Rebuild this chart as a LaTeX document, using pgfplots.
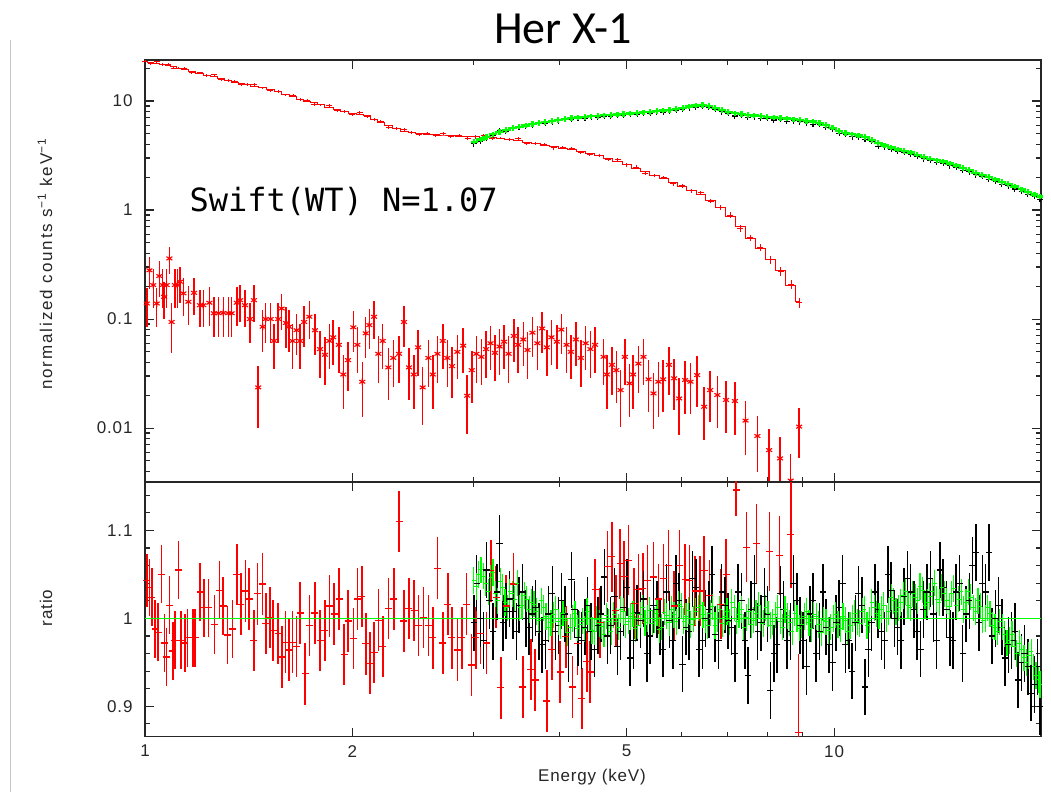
\documentclass[border=0pt]{standalone}
\usepackage{pgfplots}
\pgfplotsset{compat=1.18}
\usepackage{pgfplotstable}
\usepackage{fontspec}
\setmainfont{Liberation Sans}
\newfontfamily\titlefont{Carlito}
\newfontfamily\monofont{DejaVu Sans Mono}
\newfontfamily\pgfont{Liberation Sans}[LetterSpace=5]
\newfontfamily\pgwide{Liberation Sans}[LetterSpace=11]

% upper red (Swift WT): energy, model, data, error
\pgfplotstableread{
E m d e
1.00 23.0 23.2 0.6
1.02 22.6 22.1 0.6
1.04 22.2 22.9 0.6
1.06 21.8 21.6 0.6
1.08 21.2 21.6 0.6
1.10 20.6 20.0 0.5
1.12 20.0 20.0 0.5
1.14 19.4 20.0 0.5
1.17 18.7 18.3 0.5
1.20 17.95 18.1 0.5
1.23 17.3 17.1 0.45
1.26 16.7 17.4 0.45
1.29 16.0 15.7 0.45
1.32 15.5 15.5 0.4
1.35 14.95 15.2 0.4
1.38 14.5 14.1 0.4
1.41 14.1 14.2 0.4
1.44 13.7 14.1 0.4
1.48 13.3 13.2 0.35
1.52 12.8 12.5 0.35
1.56 12.2 12.3 0.35
1.60 11.6 11.4 0.3
1.64 11.0 11.3 0.3
1.68 10.4 10.3 0.3
1.72 10.0 10.2 0.3
1.76 9.6 9.3 0.3
1.80 9.2 9.2 0.25
1.85 8.8 9.06 0.25
1.90 8.4 8.23 0.25
1.95 8.0 8.08 0.25
2.00 7.65 7.57 0.22
2.05 7.5 7.8 0.22
2.10 7.3 7.15 0.22
2.15 6.8 6.8 0.2
2.20 6.35 6.48 0.2
2.26 5.95 5.77 0.18
2.32 5.55 5.6 0.17
2.38 5.3 5.46 0.16
2.44 5.15 5.1 0.16
2.50 5.05 4.95 0.15
2.57 4.98 5.03 0.15
2.64 4.93 4.83 0.15
2.71 4.88 5.03 0.15
2.78 4.82 4.77 0.15
2.86 4.76 4.86 0.15
2.94 4.70 4.56 0.15
3.02 4.68 4.68 0.15
3.10 4.66 4.8 0.15
3.19 4.60 4.51 0.14
3.28 4.53 4.58 0.14
3.38 4.46 4.42 0.14
3.48 4.33 4.5 0.14
3.58 4.20 4.12 0.13
3.69 4.07 4.07 0.13
3.80 3.95 4.03 0.13
3.92 3.82 3.71 0.12
4.04 3.70 3.74 0.12
4.16 3.57 3.68 0.12
4.29 3.43 3.4 0.11
4.42 3.30 3.23 0.11
4.56 3.15 3.18 0.1
4.70 2.98 2.92 0.1
4.85 2.80 2.88 0.1
5.00 2.62 2.59 0.09
5.16 2.43 2.48 0.09
5.32 2.25 2.18 0.08
5.49 2.08 2.08 0.08
5.66 1.93 1.99 0.07
5.84 1.78 1.74 0.07
6.02 1.65 1.67 0.07
6.21 1.52 1.50 0.06
6.41 1.38 1.44 0.06
6.62 1.23 1.21 0.06
6.84 1.06 1.06 0.05
7.07 0.88 0.90 0.05
7.31 0.70 0.68 0.045
7.56 0.55 0.556 0.04
7.82 0.44 0.453 0.035
8.09 0.355 0.351 0.03
8.37 0.28 0.274 0.025
8.66 0.205 0.207 0.02
8.90 0.145 0.142 0.015
}\redtop

% lower red spectrum: energy, value, error
\pgfplotstableread{
E y e
1.006 0.139 0.055
1.015 0.280 0.09
1.028 0.205 0.08
1.040 0.139 0.055
1.049 0.248 0.09
1.061 0.205 0.08
1.066 0.160 0.06
1.075 0.205 0.08
1.085 0.360 0.1
1.093 0.094 0.045
1.105 0.205 0.08
1.114 0.205 0.08
1.124 0.220 0.08
1.137 0.172 0.065
1.156 0.144 0.055
1.178 0.174 0.065
1.202 0.134 0.05
1.215 0.134 0.05
1.240 0.141 0.055
1.259 0.113 0.045
1.278 0.113 0.045
1.299 0.114 0.045
1.321 0.113 0.045
1.336 0.113 0.045
1.359 0.141 0.055
1.374 0.149 0.055
1.397 0.134 0.05
1.420 0.100 0.04
1.439 0.149 0.055
1.460 0.0236 0.0135
1.482 0.085 0.035
1.497 0.100 0.04
1.522 0.100 0.04
1.539 0.063 0.028
1.561 0.100 0.04
1.579 0.125 0.045
1.602 0.092 0.038
1.618 0.085 0.035
1.638 0.063 0.028
1.660 0.079 0.032
1.679 0.063 0.028
1.702 0.094 0.038
1.732 0.105 0.04
1.765 0.079 0.032
1.795 0.053 0.024
1.825 0.047 0.022
1.852 0.063 0.028
1.876 0.068 0.03
1.911 0.058 0.026
1.940 0.031 0.016
1.971 0.042 0.02
2.006 0.084 0.034
2.033 0.058 0.026
2.067 0.0266 0.014
2.091 0.074 0.03
2.116 0.088 0.035
2.150 0.105 0.04
2.181 0.048 0.022
2.213 0.063 0.028
2.255 0.036 0.018
2.293 0.044 0.02
2.337 0.048 0.022
2.376 0.094 0.038
2.416 0.036 0.018
2.455 0.031 0.016
2.491 0.055 0.025
2.529 0.0236 0.013
2.578 0.044 0.02
2.616 0.031 0.016
2.657 0.048 0.022
2.705 0.063 0.028
2.746 0.044 0.02
2.790 0.037 0.018
2.840 0.050 0.022
2.896 0.057 0.025
2.935 0.0198 0.011
2.980 0.034 0.017
3.026 0.048 0.022
3.077 0.045 0.02
3.127 0.053 0.024
3.173 0.060 0.026
3.220 0.049 0.022
3.27 0.056 0.025
3.32 0.062 0.027
3.37 0.048 0.022
3.43 0.070 0.03
3.48 0.058 0.026
3.54 0.065 0.028
3.59 0.052 0.024
3.65 0.075 0.03
3.71 0.060 0.026
3.77 0.082 0.033
3.83 0.055 0.025
3.89 0.068 0.03
3.96 0.062 0.027
4.02 0.080 0.032
4.09 0.058 0.026
4.15 0.050 0.022
4.22 0.065 0.028
4.29 0.044 0.02
4.36 0.060 0.026
4.43 0.053 0.024
4.50 0.058 0.026
4.63 0.045 0.02
4.68 0.031 0.016
4.76 0.038 0.018
4.83 0.034 0.017
4.90 0.0223 0.012
4.97 0.045 0.02
5.05 0.0257 0.013
5.11 0.031 0.016
5.20 0.039 0.018
5.29 0.045 0.02
5.38 0.028 0.014
5.47 0.0208 0.011
5.56 0.0266 0.014
5.65 0.028 0.014
5.76 0.038 0.018
5.86 0.0286 0.014
5.96 0.0187 0.01
6.08 0.0276 0.014
6.19 0.0266 0.013
6.33 0.0306 0.015
6.48 0.0157 0.008
6.61 0.0223 0.011
6.77 0.0201 0.01
6.97 0.0181 0.009
7.18 0.0177 0.009
7.44 0.0117 0.006
7.74 0.00845 0.0045
8.05 0.00628 0.0035
8.35 0.00527 0.003
8.65 0.0033 0.0025
8.90 0.0103 0.005
}\redlow

% black (b) and green (g) spectra
\pgfplotstableread{
E g b
3.00 4.24 4.05
3.07 4.45 4.25
3.13 4.65 4.60
3.20 4.95 4.85
3.27 5.22 5.35
3.34 5.45 5.30
3.42 5.68 5.60
3.49 5.82 5.75
3.57 5.98 5.85
3.65 6.15 6.05
3.73 6.28 6.30
3.81 6.42 6.25
3.90 6.60 6.45
3.98 6.72 6.60
4.07 6.86 6.80
4.16 6.95 6.78
4.25 7.05 6.95
4.35 7.14 6.90
4.44 7.24 7.15
4.54 7.32 7.10
4.64 7.40 7.30
4.74 7.47 7.20
4.85 7.55 7.45
4.95 7.62 7.40
5.06 7.70 7.62
5.18 7.78 7.55
5.29 7.88 7.80
5.41 7.97 7.72
5.53 8.06 7.95
5.65 8.17 7.90
5.77 8.28 8.15
5.90 8.50 8.25
6.03 8.68 8.45
6.16 8.90 8.65
6.30 9.08 8.75
6.44 9.20 8.95
6.58 9.05 8.70
6.72 8.65 8.45
6.87 8.25 7.95
7.02 7.98 7.70
7.18 7.72 7.30
7.34 7.60 7.35
7.50 7.45 7.05
7.66 7.35 7.15
7.83 7.25 6.95
8.00 7.15 6.90
8.18 7.05 6.70
8.36 6.98 6.80
8.54 6.90 6.55
8.73 6.80 6.60
8.92 6.70 6.45
9.12 6.60 6.30
9.32 6.50 6.15
9.52 6.30 6.10
9.73 6.02 5.75
9.95 5.70 5.50
10.17 5.30 5.05
10.39 5.10 4.95
10.62 4.95 4.70
10.85 4.82 4.65
11.09 4.68 4.45
11.34 4.40 4.25
11.59 4.10 3.85
11.84 3.92 3.80
12.10 3.75 3.60
12.37 3.60 3.45
12.64 3.50 3.38
12.92 3.38 3.22
13.20 3.22 3.12
13.49 3.08 2.95
13.79 2.96 2.85
14.09 2.86 2.72
14.40 2.78 2.68
14.72 2.68 2.55
15.04 2.56 2.48
15.37 2.44 2.32
15.71 2.32 2.24
16.06 2.20 2.10
16.41 2.10 2.03
16.77 2.00 1.91
17.14 1.91 1.84
17.52 1.82 1.73
17.90 1.73 1.67
18.30 1.64 1.56
18.70 1.55 1.49
19.11 1.47 1.40
19.53 1.39 1.33
19.90 1.33 1.26
}\nustar

% red ratio
\pgfplotstableread{
E r e
1.006 1.043 0.030
1.015 1.035 0.032
1.023 1.024 0.033
1.034 0.988 0.033
1.045 0.984 0.033
1.057 1.050 0.033
1.067 0.972 0.033
1.075 0.956 0.033
1.085 1.015 0.033
1.097 0.963 0.033
1.105 0.975 0.033
1.118 1.055 0.033
1.127 0.975 0.033
1.143 0.972 0.033
1.153 0.978 0.033
1.173 0.978 0.033
1.182 0.978 0.033
1.202 1.030 0.033
1.218 1.012 0.033
1.236 1.012 0.033
1.261 0.993 0.033
1.282 1.032 0.033
1.299 1.014 0.033
1.318 0.981 0.033
1.339 0.988 0.033
1.359 1.050 0.035
1.377 1.016 0.035
1.400 1.031 0.035
1.417 1.022 0.035
1.439 0.975 0.035
1.457 1.028 0.035
1.480 1.039 0.035
1.497 0.994 0.035
1.518 1.001 0.035
1.535 0.986 0.035
1.561 0.983 0.035
1.582 0.956 0.035
1.600 0.973 0.035
1.618 0.964 0.035
1.638 0.973 0.035
1.660 0.968 0.035
1.679 1.006 0.035
1.707 0.937 0.035
1.732 0.992 0.035
1.765 1.006 0.035
1.795 0.975 0.035
1.825 0.986 0.035
1.852 1.014 0.035
1.881 1.005 0.035
1.914 1.022 0.035
1.945 0.959 0.035
1.973 0.997 0.035
2.006 0.977 0.035
2.033 1.022 0.035
2.063 1.025 0.035
2.091 0.971 0.035
2.121 0.949 0.035
2.150 0.961 0.035
2.181 0.998 0.035
2.213 0.968 0.035
2.255 1.011 0.035
2.298 1.022 0.035
2.339 1.110 0.035
2.376 0.997 0.035
2.416 1.011 0.035
2.457 1.009 0.035
2.493 0.992 0.035
2.535 1.001 0.035
2.578 0.992 0.035
2.616 0.978 0.035
2.657 1.057 0.035
2.705 0.972 0.035
2.750 1.016 0.035
2.787 0.978 0.035
2.843 0.964 0.035
2.882 0.978 0.035
2.930 1.016 0.035
2.979 0.947 0.035
3.022 0.978 0.035
3.070 0.983 0.035
3.132 0.972 0.035
3.178 1.054 0.035
3.232 1.024 0.035
3.283 0.921 0.035
3.342 1.014 0.035
3.425 1.039 0.035
3.534 0.922 0.035
3.630 0.942 0.035
3.683 0.930 0.035
3.830 0.906 0.035
3.894 0.965 0.035
4.004 0.939 0.035
4.081 0.979 0.035
4.172 0.922 0.035
4.243 0.971 0.035
4.304 0.909 0.035
4.377 0.951 0.035
4.426 0.939 0.035
4.500 1.033 0.035
4.575 0.995 0.04
4.688 1.059 0.04
4.757 1.070 0.04
4.821 1.009 0.04
4.891 1.062 0.04
4.957 1.048 0.04
5.029 1.066 0.04
5.125 1.017 0.04
5.200 1.033 0.04
5.276 1.034 0.04
5.359 1.043 0.04
5.468 1.047 0.04
5.560 1.022 0.04
5.654 1.045 0.04
5.749 1.060 0.04
5.860 1.014 0.04
5.965 1.060 0.04
6.079 1.044 0.04
6.166 1.043 0.04
6.286 1.031 0.04
6.391 1.031 0.04
6.477 1.054 0.04
6.592 1.026 0.04
6.848 1.016 0.04
6.971 1.050 0.04
7.207 1.146 0.03
7.468 1.081 0.04
7.722 1.085 0.045
8.054 1.076 0.045
8.328 1.071 0.045
8.651 1.095 0.06
8.875 0.870 0.09
}\redratio

% black ratio
\pgfplotstableread{
E r
3.00 0.995
3.03 1.040
3.07 1.000
3.10 0.975
3.13 1.055
3.16 1.020
3.20 0.985
3.24 1.030
3.27 1.085
3.31 0.995
3.34 1.008
3.38 1.022
3.42 1.008
3.46 0.985
3.49 1.015
3.53 1.030
3.57 1.000
3.61 0.990
3.65 1.005
3.69 1.012
3.73 0.985
3.77 0.970
3.81 0.975
3.85 1.005
3.90 1.028
3.94 0.985
3.98 0.992
4.02 1.020
4.07 1.005
4.12 0.960
4.16 1.044
4.20 1.010
4.25 0.978
4.30 0.975
4.35 0.990
4.39 1.015
4.44 0.985
4.49 0.965
4.54 0.992
4.59 1.005
4.64 1.047
4.69 0.980
4.74 0.992
4.80 1.025
4.85 0.968
4.90 0.985
4.95 1.012
5.01 1.035
5.06 0.955
5.12 0.975
5.18 1.006
5.24 0.998
5.29 1.022
5.35 0.960
5.41 0.980
5.47 1.015
5.53 1.010
5.59 0.990
5.65 0.965
5.71 1.030
5.77 0.998
5.84 0.975
5.90 1.040
5.96 1.020
6.03 0.948
6.10 0.990
6.16 0.985
6.23 1.045
6.30 1.035
6.37 0.965
6.44 0.975
6.51 1.000
6.58 1.010
6.65 1.050
6.72 0.982
6.80 0.975
6.87 1.030
6.95 1.015
7.02 0.997
7.10 0.990
7.18 0.960
7.26 1.030
7.34 1.020
7.42 0.975
7.50 0.935
7.58 1.010
7.66 1.040
7.75 0.985
7.83 0.995
7.92 1.025
8.00 1.005
8.08 0.918
8.18 0.960
8.27 0.970
8.36 1.028
8.45 1.010
8.54 0.975
8.64 0.985
8.73 1.040
8.83 1.020
8.92 0.992
9.02 0.975
9.12 0.945
9.22 1.005
9.32 1.020
9.42 0.960
9.52 0.985
9.63 1.030
9.73 0.990
9.84 0.970
9.95 0.950
10.06 0.995
10.17 1.012
10.28 1.040
10.39 0.970
10.51 0.975
10.62 0.940
10.74 0.995
10.85 1.028
10.97 1.015
11.09 0.922
11.22 0.965
11.34 0.995
11.47 1.030
11.59 1.010
11.72 0.985
11.84 0.975
11.97 1.050
12.10 1.032
12.24 1.000
12.37 0.990
12.51 0.975
12.64 1.025
12.78 1.045
12.92 1.030
13.06 1.010
13.20 0.985
13.35 0.965
13.49 1.010
13.64 1.030
13.79 1.045
13.94 1.005
14.09 0.975
14.25 1.055
14.40 1.035
14.56 1.010
14.72 0.978
14.88 0.975
15.04 1.030
15.21 1.040
15.37 0.960
15.54 1.005
15.71 1.020
15.88 1.060
16.06 1.075
16.23 0.995
16.41 1.040
16.59 1.030
16.77 1.075
16.95 0.980
17.14 1.000
17.33 1.015
17.52 0.990
17.71 0.955
17.90 0.970
18.10 0.975
18.30 0.985
18.50 0.930
18.70 0.950
18.90 0.960
19.11 0.945
19.32 0.915
19.53 0.925
19.72 0.945
19.90 0.900
}\blackratio

% green ratio
\pgfplotstableread{
E r
3.000 1.043
3.024 1.036
3.049 1.050
3.073 1.055
3.098 1.048
3.123 1.040
3.148 1.030
3.173 1.046
3.199 1.052
3.225 1.028
3.251 1.020
3.277 1.042
3.304 1.035
3.331 1.018
3.358 1.012
3.385 1.030
3.413 1.028
3.441 1.022
3.468 1.040
3.496 1.012
3.525 1.015
3.554 1.026
3.582 1.022
3.611 1.010
3.640 1.018
3.669 1.016
3.699 1.008
3.729 0.998
3.759 1.020
3.789 1.012
3.820 1.002
3.851 0.990
3.883 0.995
3.914 1.004
3.946 1.010
3.978 0.996
4.010 0.992
4.042 1.006
4.075 0.998
4.108 0.984
4.141 0.990
4.174 1.000
4.208 1.005
4.242 0.989
4.277 0.993
4.312 0.997
4.346 0.988
4.381 1.008
4.417 1.000
4.453 0.986
4.489 0.985
4.525 0.999
4.562 0.994
4.599 0.991
4.636 0.982
4.674 1.003
4.711 0.996
4.749 0.985
4.788 1.004
4.827 0.997
4.866 0.990
4.905 1.010
4.945 1.008
4.985 0.993
5.025 0.997
5.066 1.002
5.107 1.005
5.148 0.988
5.190 0.992
5.232 1.004
5.274 1.012
5.317 0.995
5.360 1.000
5.403 1.009
5.447 0.994
5.491 0.998
5.535 1.006
5.580 0.987
5.625 0.990
5.670 1.007
5.717 1.003
5.763 0.995
5.810 1.010
5.857 1.004
5.904 0.996
5.952 1.016
6.000 1.014
6.049 0.997
6.098 1.002
6.147 1.009
6.197 0.993
6.247 0.999
6.298 1.008
6.349 1.012
6.400 1.015
6.452 1.004
6.504 0.998
6.557 0.992
6.610 1.006
6.663 1.013
6.717 0.992
6.771 1.000
6.826 1.010
6.881 0.994
6.937 1.002
6.993 1.008
7.050 0.996
7.107 1.018
7.165 1.012
7.223 0.997
7.281 1.004
7.340 1.010
7.399 0.990
7.459 1.001
7.520 1.008
7.581 0.993
7.642 0.998
7.704 1.006
7.766 1.015
7.829 1.000
7.892 0.994
7.956 1.012
8.020 1.005
8.085 0.992
8.151 0.996
8.217 1.004
8.283 1.012
8.350 0.997
8.418 0.990
8.486 1.010
8.555 1.003
8.624 0.995
8.694 0.985
8.764 1.006
8.835 1.000
8.906 0.989
8.979 0.993
9.052 1.002
9.125 1.008
9.199 0.995
9.273 0.988
9.348 1.004
9.424 1.002
9.500 0.993
9.577 0.984
9.654 0.998
9.733 0.996
9.812 0.986
9.891 0.990
9.971 1.000
10.05 1.004
10.13 0.993
10.22 0.988
10.30 1.002
10.38 0.998
10.46 0.985
10.55 0.992
10.64 1.000
10.72 1.006
10.81 0.996
10.90 0.994
10.99 1.008
11.07 1.010
11.16 0.992
11.25 0.998
11.34 1.018
11.44 1.012
11.53 1.005
11.62 1.003
11.71 1.010
11.81 1.015
11.91 1.000
12.00 1.008
12.10 1.024
12.20 1.020
12.30 1.008
12.40 1.012
12.50 1.018
12.60 1.026
12.70 1.030
12.80 1.015
12.90 1.012
13.01 1.028
13.12 1.024
13.22 1.020
13.33 1.036
13.44 1.032
13.55 1.015
13.66 1.018
13.77 1.025
13.88 1.030
13.99 1.040
14.10 1.022
14.21 1.018
14.33 1.035
14.45 1.028
14.57 1.020
14.69 1.014
14.80 1.028
14.92 1.034
15.04 1.015
15.16 1.022
15.29 1.030
15.41 1.010
15.54 1.018
15.66 1.030
15.79 1.024
15.92 1.012
16.05 1.008
16.18 1.020
16.31 1.014
16.44 0.998
16.57 1.000
16.70 1.012
16.84 1.005
16.98 0.992
17.12 0.990
17.26 0.985
17.40 0.996
17.54 0.990
17.68 0.982
17.82 0.972
17.97 0.975
18.12 0.982
18.26 0.968
18.41 0.960
18.56 0.972
18.71 0.965
18.86 0.955
19.01 0.950
19.16 0.958
19.32 0.962
19.48 0.945
19.64 0.935
19.79 0.930
19.90 0.925
}\greenratio

\pgfplotsset{
  hrx/.style={
    scale only axis, width=896pt,
    axis line style={black!85, line width=1.2pt},
    tick style={black!85, line width=1.1pt},
    tick align=inside, xtick pos=both, ytick pos=both,
    major tick length=9pt, minor tick length=5pt,
    tick label style={font=\pgfont\fontsize{17}{17}\selectfont, text=black!85},
  }
}

\begin{document}
\begin{tikzpicture}
\useasboundingbox (0pt,0pt) rectangle (1051pt,792pt);
\draw[black!22, line width=1pt] (10.5pt,0pt) -- (10.5pt,752pt);
\node[anchor=base, font=\titlefont\fontsize{46}{46}\selectfont] at (563pt,748.5pt) {Her X-1};

% ---------------- top panel ----------------
\begin{axis}[hrx, xmode=log, ymode=log, at={(145pt,310pt)}, anchor=south west, height=422pt,
  xmin=1, xmax=19.97, ymin=0.0032, ymax=23.8,
  xtick={1,2,5,10}, minor xtick={3,4,6,7,8,9}, xticklabels={},
  ytick={0.01,0.1,1,10}, yticklabels={0.01,0.1,1,10},
  minor ytick={0.004,0.005,0.006,0.007,0.008,0.009,0.02,0.03,0.04,0.05,0.06,0.07,0.08,0.09,0.2,0.3,0.4,0.5,0.6,0.7,0.8,0.9,2,3,4,5,6,7,8,9,20},
  yticklabel style={xshift=-9pt}]
  % lower red
  \addplot[red, only marks, mark=asterisk, mark size=3.4pt, line width=1.1pt,
    error bars/.cd, y dir=both, y explicit, error mark=none, error bar style={line width=1.5pt}]
    table[x=E, y=y, y error=e] {\redlow};
  % upper red model + data
  \addplot[red, const plot mark mid, no marks, line width=1pt] table[x=E, y=m] {\redtop};
  \addplot[red, only marks, mark=-, mark size=3pt, line width=1pt,
    error bars/.cd, y dir=both, y explicit, error mark=none, error bar style={line width=1pt}]
    table[x=E, y=d, y error=e] {\redtop};
  % black
  \addplot[black, only marks, mark=+, mark size=2.8pt, line width=1.1pt] table[x=E, y=b] {\nustar};
  % green
  \addplot[green, const plot mark mid, mark=+, mark size=2.8pt, line width=2.3pt] table[x=E, y=g] {\nustar};
\end{axis}

% ---------------- ratio panel ----------------
\begin{axis}[hrx, xmode=log, at={(145pt,55.3pt)}, anchor=south west, height=254.7pt,
  xmin=1, xmax=19.97, ymin=0.8655, ymax=1.155,
  xtick={1,2,5,10}, minor xtick={3,4,6,7,8,9}, xticklabels={1,2,5,10},
  ytick={0.9,1,1.1}, yticklabels={0.9,1,1.1},
  minor ytick={0.88,0.92,0.94,0.96,0.98,1.02,1.04,1.06,1.08,1.12,1.14},
  yticklabel style={xshift=-9pt},
  xticklabel style={yshift=-5pt}]
  \addplot[red, only marks, mark=-, mark size=3.5pt, line width=1.2pt,
    error bars/.cd, y dir=both, y explicit, error mark=none, error bar style={line width=1.6pt}]
    table[x=E, y=r, y error=e] {\redratio};
  \addplot[black, only marks, mark=-, mark size=3.2pt, line width=1.2pt,
    error bars/.cd, y dir=both, y fixed=0.032, error mark=none, error bar style={line width=1.5pt}]
    table[x=E, y=r] {\blackratio};
  \addplot[green, only marks, mark=-, mark size=2pt, line width=1pt,
    error bars/.cd, y dir=both, y fixed=0.015, error mark=none, error bar style={line width=1.2pt}]
    table[x=E, y=r] {\greenratio};
  \addplot[green, line width=1.6pt] coordinates {(1,1) (19.97,1)};
\end{axis}

\node[anchor=base west, font=\monofont\fontsize{32}{32}\selectfont] at (186pt,580pt) {Swift(WT) N=1.07};
\node[rotate=90, font=\pgwide\fontsize{17}{17}\selectfont, text=black!85] at (45pt,528pt) {normalized counts s\textsuperscript{−1} keV\textsuperscript{−1}};
\node[rotate=90, font=\pgfont\fontsize{17}{17}\selectfont, text=black!85] at (46pt,184pt) {ratio};
\node[font=\pgfont\fontsize{17}{17}\selectfont, text=black!85] at (592pt,15pt) {Energy (keV)};
\end{tikzpicture}
\end{document}
